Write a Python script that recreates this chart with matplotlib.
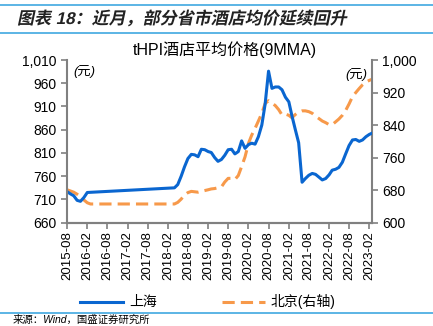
import matplotlib
matplotlib.use('Agg')
import matplotlib.pyplot as plt
import pandas as pd
from matplotlib.textpath import TextPath
from matplotlib.patches import PathPatch
from matplotlib.font_manager import FontProperties
from matplotlib.transforms import Affine2D

plt.rcParams['font.family'] = ['Liberation Sans', 'Noto Sans CJK SC']
plt.rcParams['axes.unicode_minus'] = False

# monthly series, with a gap 2016-03 .. 2018-03 (line just joins across it)
early_sh = ['2015-08', '2015-09', '2015-10', '2015-11', '2015-12', '2016-01', '2016-02']
early_bj = early_sh + ['2016-03']
late_months = pd.date_range('2018-04-01', '2023-03-01', freq='MS')

# Shanghai (left axis), yuan
sh_early = [727, 722, 718, 708, 706, 714, 725]
sh_late = [735, 742, 760, 780, 798, 807, 806, 802, 818, 817,
           813, 811, 800, 792, 796, 805, 817, 818, 808, 813,
           836, 820, 828, 831, 829, 845, 870, 915, 986, 949,
           952, 952, 946, 930, 920, 890, 860, 832, 747, 755,
           762, 766, 764, 758, 752, 755, 763, 773, 775, 779,
           790, 808, 826, 838, 839, 835, 838, 845, 850, 853]

# Beijing (right axis), yuan
bj_early = [681, 678, 675, 670, 664, 656, 649, 646]
bj_late = [646, 650, 658, 668, 674, 677, 676, 675, 677, 679,
           681, 683, 684, 686, 688, 700, 709, 709, 706, 716,
           738, 762, 795, 815, 832, 850, 869, 893, 900, 894,
           888, 878, 865, 867, 864, 858, 866, 872, 875, 875,
           873, 869, 862, 856, 850, 846, 841, 841, 848, 855,
           864, 876, 892, 910, 920, 930, 939, 946, 950, 953]

left_ticks = [660, 710, 760, 810, 860, 910, 960, 1010]
right_ticks = [600, 680, 760, 840, 920, 1000]
x_ticks = ['2015-08', '2016-02', '2016-08', '2017-02', '2017-08', '2018-02', '2018-08',
           '2019-02', '2019-08', '2020-02', '2020-08', '2021-02', '2021-08', '2022-02',
           '2022-08', '2023-02']

sh_x = pd.to_datetime(early_sh).append(late_months)
bj_x = pd.to_datetime(early_bj).append(late_months)
sh_vals = sh_early + sh_late
bj_vals = bj_early + bj_late

blue = '#0A66D0'
orange = '#F7994A'
sky = '#5BB4E5'
gray = '#808080'

fig = plt.figure(figsize=(4.33, 3.26), dpi=100)
ax = fig.add_axes([0.1547, 0.3169, 0.7037, 0.499])
ax2 = ax.twinx()

l1, = ax.plot(sh_x, sh_vals, color=blue, lw=2.2, label='上海')
l2, = ax2.plot(bj_x, bj_vals, color=orange, lw=2.2, ls=(0, (4, 2)), label='北京(右轴)')
ax.set_zorder(ax2.get_zorder() + 1)
ax.patch.set_visible(False)

ax.set_ylim(660, 1010)
ax.set_yticks(left_ticks)
ax.set_yticklabels([f'{v:,}' for v in left_ticks])
ax2.set_ylim(600, 1000)
ax2.set_yticks(right_ticks)
ax2.set_yticklabels([f'{v:,}' for v in right_ticks])

ax.set_xlim(pd.Timestamp('2015-08-01'), pd.Timestamp('2023-02-22'))
ax.set_xticks(pd.to_datetime(x_ticks))
ax.set_xticklabels(x_ticks, rotation=90)

for a in (ax, ax2):
    for s in a.spines.values():
        s.set_color(gray)
        s.set_linewidth(1.5)
    a.spines['top'].set_visible(False)
    a.tick_params(colors=gray, labelcolor='black', width=1.2, length=4, labelsize=10)
ax.tick_params(axis='x', labelsize=9.5, pad=2)
ax2.spines['left'].set_visible(False)
ax.spines['right'].set_visible(False)

ax.text(0.02, 0.97, '(元)', transform=ax.transAxes, fontsize=9.5, va='top', ha='left', style='italic')
ax2.text(0.985, 0.95, '(元)', transform=ax.transAxes, fontsize=9.5, va='top', ha='right', style='italic')

fig.text(0.52, 0.831, 'tHPI酒店平均价格(9MMA)', fontsize=11.5, ha='center', va='baseline')

fig.legend(handles=[l1, l2], loc='center', bbox_to_anchor=(0.48, 0.074), ncol=2,
           frameon=False, fontsize=10, handlelength=3.1, columnspacing=4.7, handletextpad=0.4)

# blue rules
for yy in (0.985, 0.898, 0.041):
    fig.add_artist(plt.Line2D([0, 1], [yy, yy], color=sky, lw=1.4, transform=fig.transFigure))

# bold italic heading drawn as skewed text path
fp = FontProperties(family=['Liberation Sans', 'Noto Sans CJK SC'], weight='bold')
tp = TextPath((0, 0), '图表 18：近月，部分省市酒店均价延续回升', size=17, prop=fp)
tr = Affine2D().skew_deg(12, 0).translate(17, 326 - 24)
fig.add_artist(PathPatch(tr.transform_path(tp), color='#222222', lw=0, transform=None))

fig.text(0.028, 0.003, '来源：Wind，国盛证券研究所', fontsize=7.5, ha='left', va='bottom', style='italic')

fig.savefig('out.png', dpi=100)
